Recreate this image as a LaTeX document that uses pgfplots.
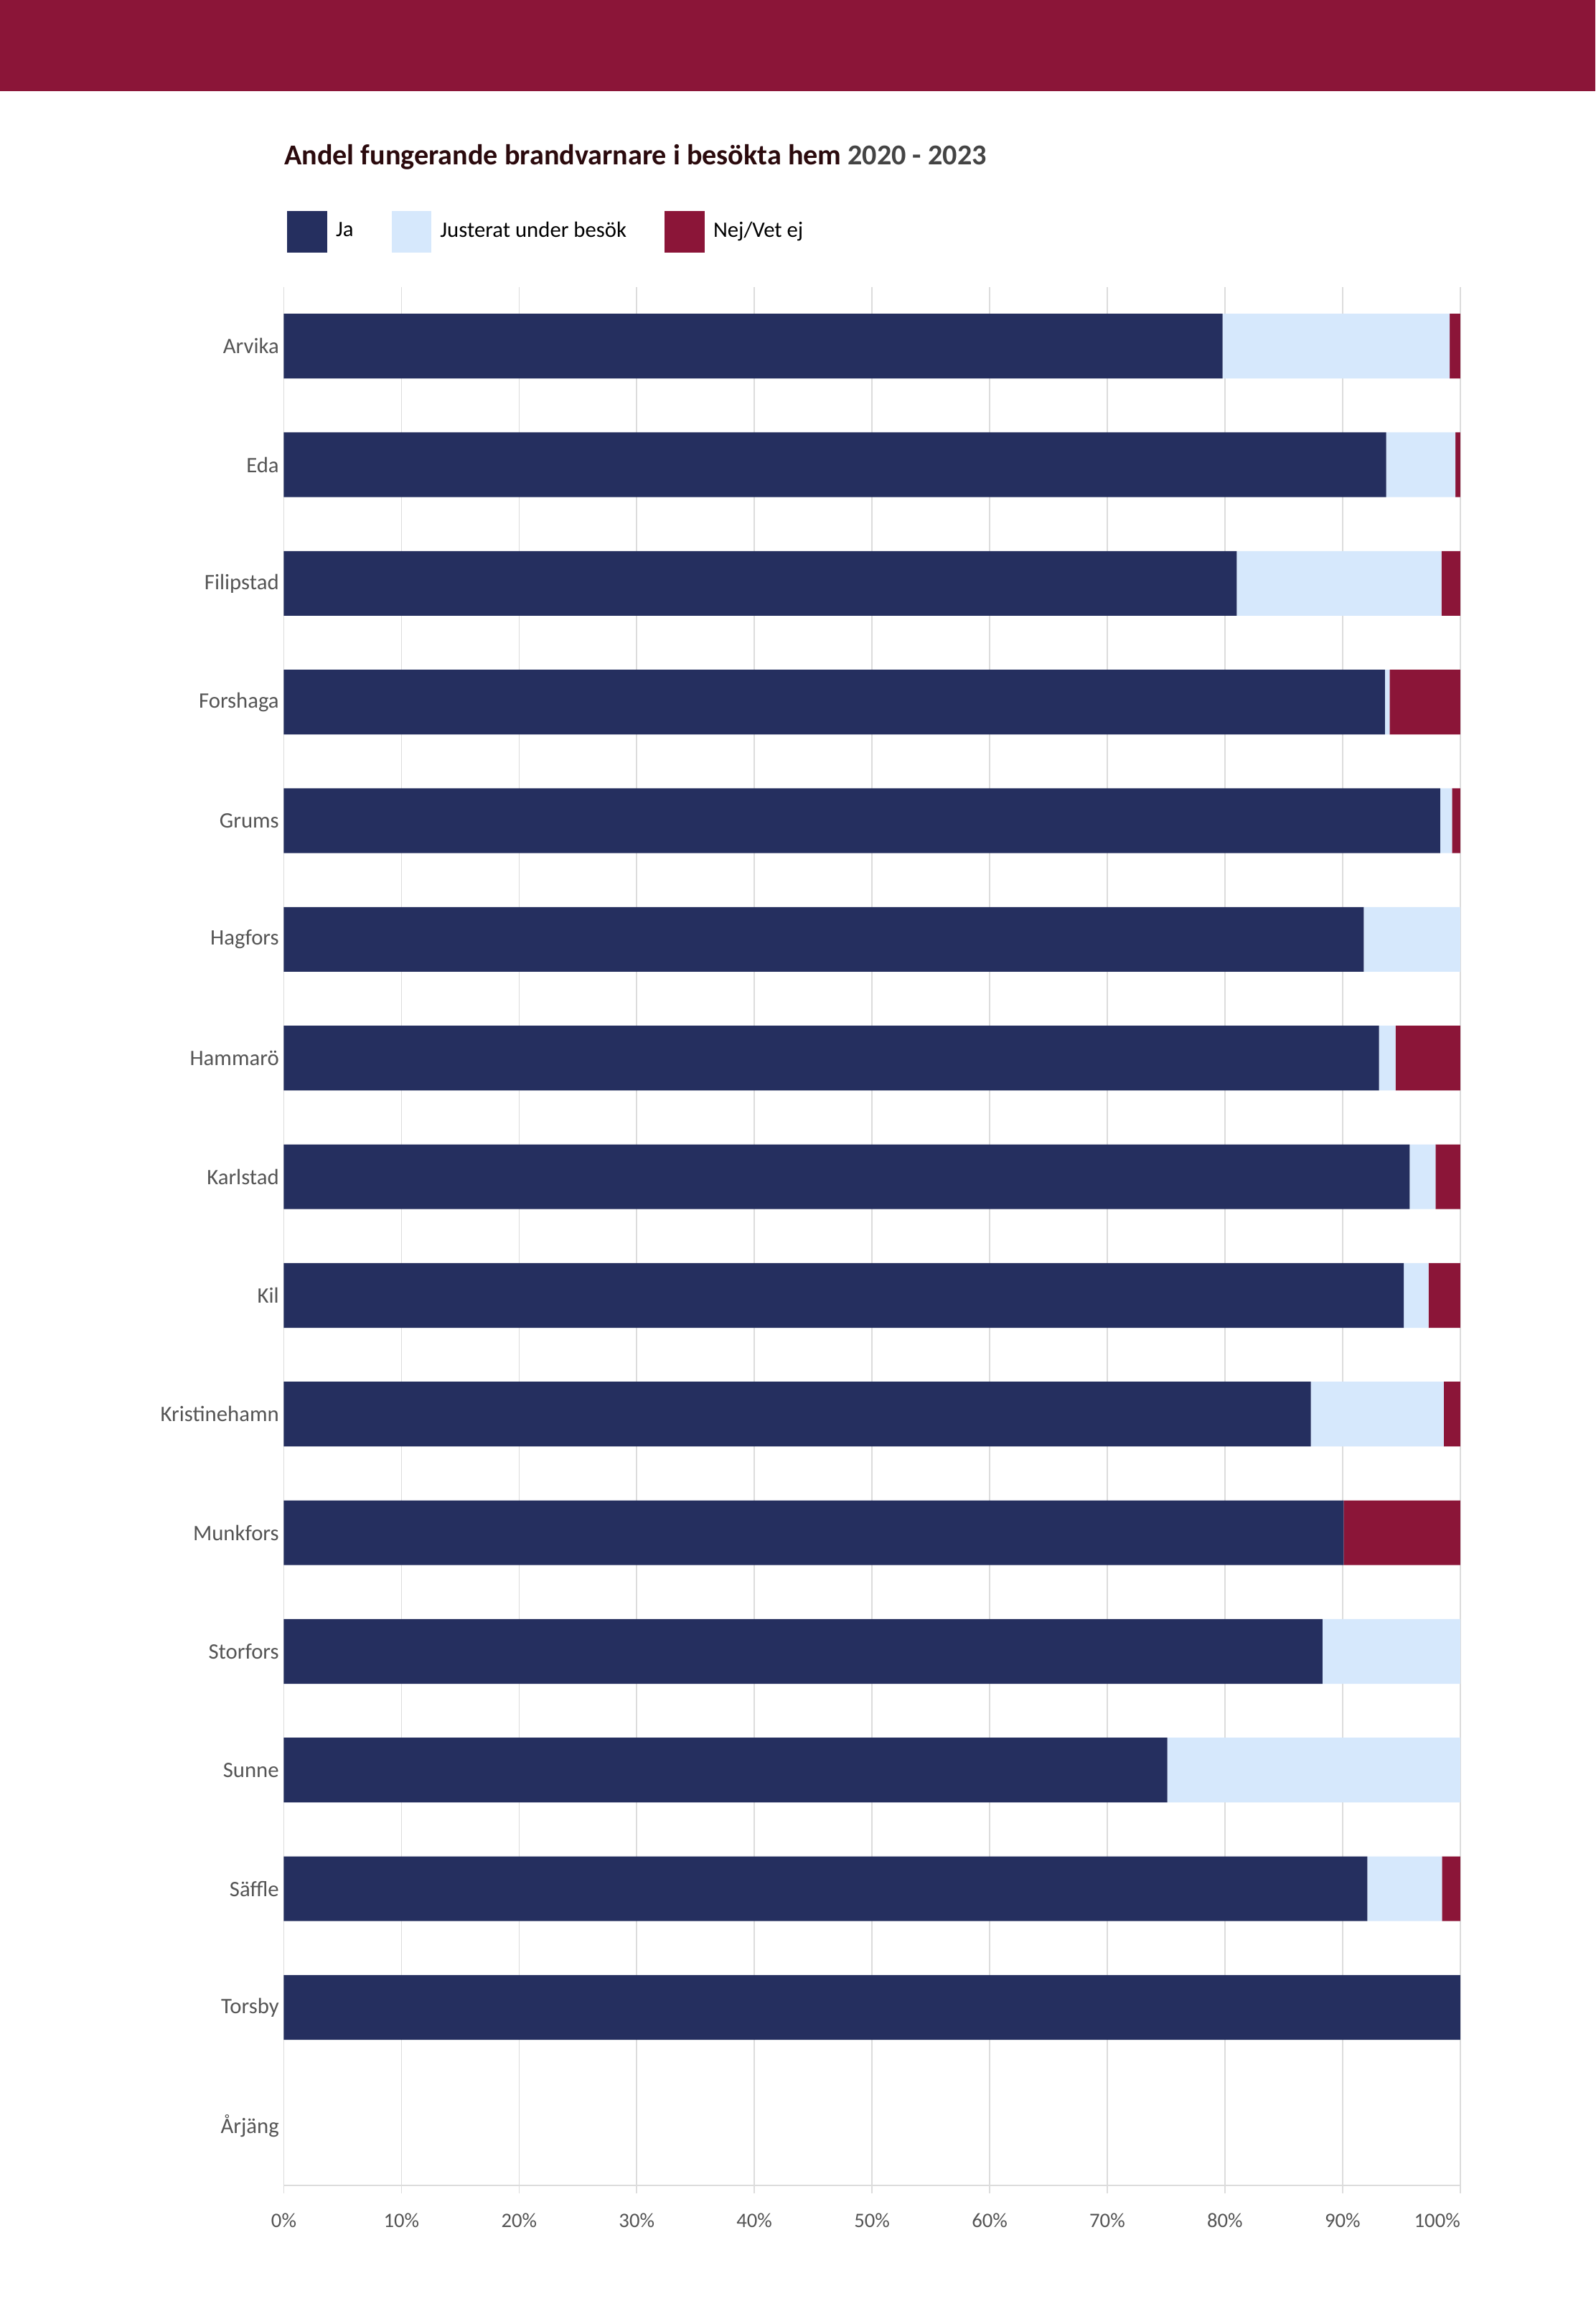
\documentclass[border=0pt]{standalone}
\usepackage{pgfplots}
\pgfplotsset{compat=1.18}
\usepackage{pgfplotstable}
\usepackage{fontspec}
\setmainfont{Carlito}
\definecolor{ja}{HTML}{252F5F}
\definecolor{just}{HTML}{D6E8FC}
\definecolor{nej}{HTML}{8B1538}
\definecolor{gridc}{HTML}{DCDCDC}
\definecolor{labc}{HTML}{555555}
\definecolor{titc}{HTML}{2B0A0D}
\pgfplotstableread{
y ja just nej
15 79.8 19.3 0.9
14 93.7 5.9 0.4
13 81.0 17.4 1.6
12 93.6 0.4 6.0
11 98.3 1.0 0.7
10 91.8 8.2 0
9 93.1 1.4 5.5
8 95.7 2.2 2.1
7 95.2 2.1 2.7
6 87.3 11.3 1.4
5 90.1 0 9.9
4 88.3 11.7 0
3 75.1 24.9 0
2 92.1 6.35 1.55
1 100 0 0
0 0 0 0
}\datatable
\begin{document}
\begin{tikzpicture}
\path[fill=white] (0,0) rectangle (542.5pt,784pt);
\fill[nej] (0,753pt) rectangle (542.5pt,784pt);
\node[anchor=base west,inner sep=0pt,font=\fontsize{9.8}{11}\selectfont\bfseries] at (96.5pt,728pt) {\textcolor{titc}{Andel fungerande brandvarnare i besökta hem} \textcolor{labc!80!black}{2020 - 2023}};
\begin{axis}[
  at={(96.5pt,41pt)}, anchor=south west,
  scale only axis, width=400pt, height=645.5pt,
  xbar stacked, bar width=22pt,
  xmin=0, xmax=100, ymin=-0.5, ymax=15.5,
  axis x line*=bottom, axis y line*=left,
  x axis line style={draw=gridc, line width=0.7pt, -},
  y axis line style={draw=none},
  xmajorgrids, major grid style={draw=gridc, line width=0.4pt},
  xtick={0,10,...,100},
  xticklabels={0\%,10\%,20\%,30\%,40\%,50\%,60\%,70\%,80\%,90\%,\makebox[0pt][r]{100\%}},
  tick align=outside, major tick length=2.75pt,
  xtick style={draw=gridc, line width=0.4pt},
  ytick style={draw=none},
  ytick={0,...,15},
  yticklabels={Årjäng,Torsby,Säffle,Sunne,Storfors,Munkfors,Kristinehamn,Kil,Karlstad,Hammarö,Hagfors,Grums,Forshaga,Filipstad,Eda,Arvika},
  yticklabel style={font=\fontsize{7.5}{9}\selectfont, text=labc, inner sep=0pt, xshift=1.3pt},
  xticklabel style={font=\fontsize{7}{8}\selectfont, text=labc, inner sep=1pt, yshift=-5.5pt},
  legend columns=3,
  legend style={at={(0,1)}, anchor=south west, xshift=1pt, yshift=11.5pt, draw=none, fill=none, inner sep=0pt,
    font=\fontsize{7.5}{9}\selectfont, text=black,
    /tikz/every even column/.append style={column sep=11pt},
    /tikz/every odd column/.append style={column sep=1pt},
    /tikz/column 4/.append style={column sep=9pt}},
  legend image code/.code={\fill[#1] (0pt,-7pt) rectangle (13.5pt,7pt);},
]
\addplot[fill=ja, draw=none] table[x=ja, y=y] {\datatable};
\addplot[fill=just, draw=none] table[x=just, y=y] {\datatable};
\addplot[fill=nej, draw=none] table[x=nej, y=y] {\datatable};
\legend{Ja, Justerat under besök, Nej/Vet ej}
\end{axis}
\end{tikzpicture}
\end{document}
